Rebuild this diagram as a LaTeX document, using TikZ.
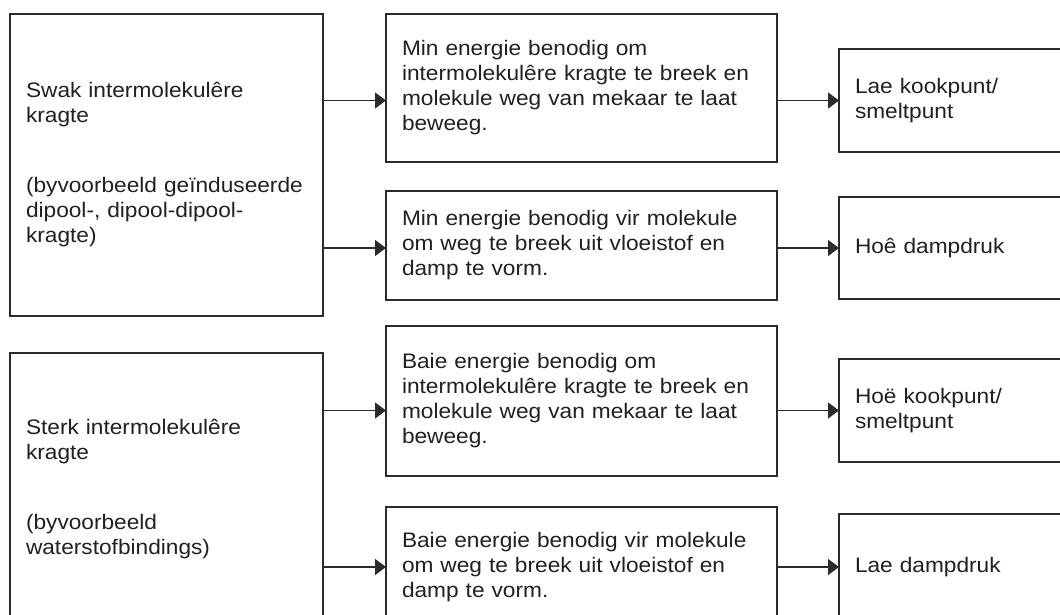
\documentclass[tikz,border=0pt]{standalone}
\usepackage{fontspec}
\setmainfont{Liberation Sans}[FakeStretch=1.08]
\usetikzlibrary{arrows.meta}
\definecolor{ink}{HTML}{231F20}
\definecolor{rule}{HTML}{2B2B2B}
\begin{document}
\begin{tikzpicture}[x=1pt,y=-1pt,
  box/.style={draw=rule,line width=1.6pt,anchor=north west,align=left,
    inner xsep=16pt,inner ysep=0pt,outer sep=0pt,text=ink,
    font=\fontsize{21}{25}\selectfont},
  arr/.style={draw=rule,line width=1.4pt,-{Triangle[length=11pt,width=16pt]}}]
\useasboundingbox (0,0) rectangle (1060,614);
\clip (0,0) rectangle (1060,614);
% left boxes
\node[box,text width=281pt,minimum height=302pt] (L1) at (10,14)
  {Swak intermolekulêre\\kragte\\[45pt](byvoorbeeld geïnduseerde\\dipool-, dipool-dipool-\\kragte)};
\node[box,text width=281pt,minimum height=272pt] (L2) at (10,353)
  {Sterk intermolekulêre\\kragte\\[45pt](byvoorbeeld\\waterstofbindings)};
% middle boxes
\node[box,text width=359pt,minimum height=148pt] (M1) at (386,14)
  {Min energie benodig om\\intermolekulêre kragte te breek en\\molekule weg van mekaar te laat\\beweeg.};
\node[box,text width=359pt,minimum height=109pt] (M2) at (386,191)
  {Min energie benodig vir molekule\\om weg te breek uit vloeistof en\\damp te vorm.};
\node[box,text width=359pt,minimum height=150pt] (M3) at (386,326)
  {Baie energie benodig om\\intermolekulêre kragte te breek en\\molekule weg van mekaar te laat\\beweeg.};
\node[box,text width=359pt,minimum height=121pt] (M4) at (386,507)
  {Baie energie benodig vir molekule\\om weg te breek uit vloeistof en\\damp te vorm.};
% right boxes
\node[box,text width=210pt,minimum height=103pt] (R1) at (839,49)
  {Lae kookpunt/\\smeltpunt};
\node[box,text width=210pt,minimum height=102pt] (R2) at (839,197)
  {Hoê dampdruk};
\node[box,text width=210pt,minimum height=103pt] (R3) at (839,359)
  {Hoë kookpunt/\\smeltpunt};
\node[box,text width=210pt,minimum height=106pt] (R4) at (839,514)
  {Lae dampdruk};
% arrows
\draw[arr] (L1.east |- R1.west) -- (M1.west |- R1.west);
\draw[arr] (L1.east |- R2.west) -- (M2.west |- R2.west);
\draw[arr] (M1.east |- R1.west) -- (R1.west);
\draw[arr] (M2.east |- R2.west) -- (R2.west);
\draw[arr] (L2.east |- R3.west) -- (M3.west |- R3.west);
\draw[arr] (L2.east |- R4.west) -- (M4.west |- R4.west);
\draw[arr] (M3.east |- R3.west) -- (R3.west);
\draw[arr] (M4.east |- R4.west) -- (R4.west);
\end{tikzpicture}
\end{document}
